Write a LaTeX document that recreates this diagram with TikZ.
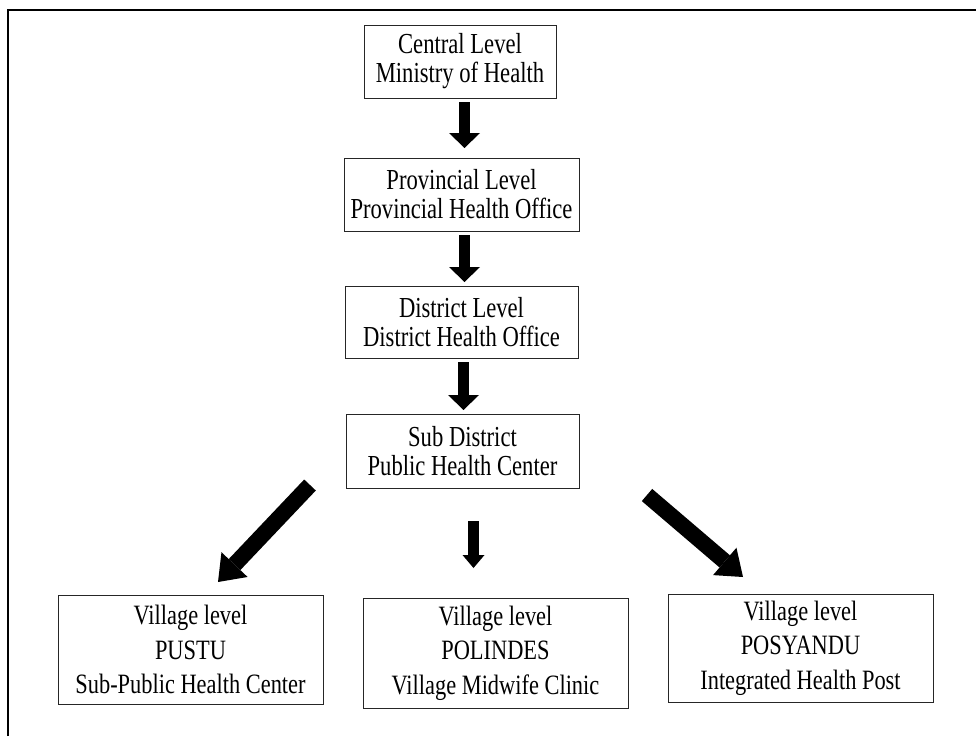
\documentclass[tikz,border=0pt]{standalone}
\usepackage{fontspec}
\setmainfont[FakeStretch=0.78]{Liberation Serif}
\newfontfamily\vilfont[FakeStretch=0.80]{Liberation Serif}
\usetikzlibrary{arrows.meta}
\begin{document}
\begin{tikzpicture}[x=1pt,y=-1pt,
  lvlbox/.style={draw=black!85,line width=0.9pt,inner sep=0pt,align=center,
     font=\fontsize{29}{29}\selectfont},
  vilbox/.style={draw=black!85,line width=0.9pt,inner sep=0pt,align=center,
     font=\vilfont\fontsize{28}{34.5}\selectfont},
  bigarrow/.style={line width=11pt,-{Triangle[width=31pt,length=15pt,line width=0pt]}},
  smallarrow/.style={line width=11pt,-{Triangle[width=22pt,length=13pt,line width=0pt]}},
  diagarrow/.style={line width=16pt,-{Triangle[width=36pt,length=24pt,line width=0pt]}}]
\useasboundingbox (0,0) rectangle (976,736);
\fill[white] (0,0) rectangle (976,736);
% outer frame (top and left only)
\coordinate (f1) at (8,736);
\coordinate (f2) at (8,10);
\coordinate (f3) at (976,10);
\draw[line width=1.2pt] (f1) -- (f2) -- (f3);
% level boxes
\node[lvlbox,minimum width=192pt,minimum height=73pt] (c1) at (460,61.5) {Central Level\\Ministry of Health};
\node[lvlbox,minimum width=235pt,minimum height=73pt] (c2) at (461.5,194.5) {Provincial Level\\Provincial Health Office};
\node[lvlbox,minimum width=233pt,minimum height=72pt] (c3) at (461.5,322) {District Level\\District Health Office};
\node[lvlbox,minimum width=233pt,minimum height=74pt] (c4) at (462.5,451) {Sub District\\Public Health Center};
% village boxes
\node[vilbox,minimum width=265pt,minimum height=109pt] (v1) at (190.5,649.5) {Village level\\PUSTU\\Sub-Public Health Center};
\node[vilbox,minimum width=265pt,minimum height=110pt] (v2) at (495.5,653) {Village level\\POLINDES\\Village Midwife Clinic};
\node[vilbox,minimum width=265pt,minimum height=108pt] (v3) at (800.5,648) {Village level\\POSYANDU\\Integrated Health Post};
% arrows
\coordinate (a1s) at (464.5,102);
\coordinate (a1e) at (464.5,148);
\coordinate (a2s) at (464.5,235);
\coordinate (a2e) at (464.5,282);
\coordinate (a3s) at (463.5,362);
\coordinate (a3e) at (463.5,410);
\coordinate (a4s) at (473.5,521);
\coordinate (a4e) at (473.5,568);
\coordinate (a5s) at (310,485);
\coordinate (a5e) at (218,582);
\coordinate (a6s) at (647,495);
\coordinate (a6e) at (743,577);
\draw[bigarrow] (a1s) -- (a1e);
\draw[bigarrow] (a2s) -- (a2e);
\draw[bigarrow] (a3s) -- (a3e);
\draw[smallarrow] (a4s) -- (a4e);
\draw[diagarrow] (a5s) -- (a5e);
\draw[diagarrow] (a6s) -- (a6e);
\end{tikzpicture}
\end{document}
